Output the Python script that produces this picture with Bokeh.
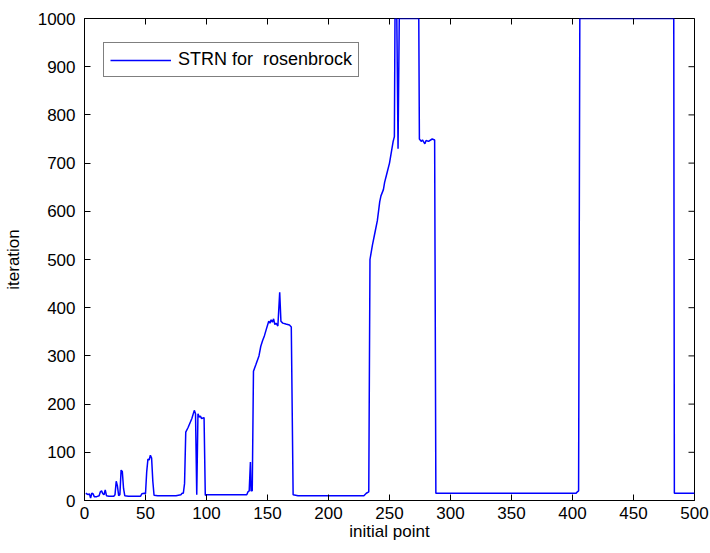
import math
from bokeh.plotting import figure
from bokeh.models import Range1d, FixedTicker, Legend, LegendItem
from bokeh.embed import file_html
from bokeh.resources import INLINE

x_ticks = [0, 50, 100, 150, 200, 250, 300, 350, 400, 450, 500]
y_ticks = [0, 100, 200, 300, 400, 500, 600, 700, 800, 900, 1000]

series_name = "STRN for  rosenbrock"

initial_point = [
    1, 3, 4, 5, 6, 7, 8, 10, 12, 13, 14, 15, 16, 17, 18, 20, 24, 25, 26, 27, 28, 29,
    30, 31, 32, 33, 36, 46, 47, 49, 50, 51, 52, 53, 54, 55, 56, 57,
    60, 75, 79, 80, 81, 82, 83, 85, 88, 90, 91, 92, 93, 94, 95, 96, 98, 99,
    100, 133, 134, 135, 136, 136.5, 137.5, 138.5, 140.5, 143, 144.5, 146, 147.5, 149,
    151, 152, 153, 154, 155, 156, 157, 158.5, 160, 161, 162.5, 165, 168, 169.5, 171,
    175, 229, 231, 233, 234, 236, 238, 240, 241, 242, 243, 245, 246, 248, 250, 252,
    253, 254, 254.5, 256, 257, 258, 274, 274.5, 276, 277, 279, 280, 282, 285, 287,
    288, 290, 403, 404, 405, 406, 483, 483.5, 500,
]
iteration = [
    15, 12, 14, 5, 15, 14, 8, 8, 10, 18, 20, 14, 12, 22, 10, 9, 9, 12, 40, 30, 10, 12,
    63, 60, 25, 10, 9, 9, 14, 15, 14, 60, 86, 84, 94, 88, 40, 11,
    10, 10, 12, 15, 15, 35, 142, 152, 170, 187, 180, 12, 180, 173, 175, 170, 172, 11,
    12, 12, 18, 20, 80, 20, 20, 268, 282, 300, 320, 332, 342, 355,
    372, 368, 375, 370, 377, 365, 368, 362, 432, 372, 368, 366, 364, 360, 12,
    10, 10, 15, 18, 500, 530, 555, 580, 600, 620, 632, 645, 660, 680, 700, 730,
    745, 755, 1000, 1000, 730, 1000, 1000, 750, 745, 748, 740, 747, 745, 750, 748,
    15, 15, 15, 18, 20, 1000, 1000, 15, 15,
]

FONT = "Liberation Sans"
FS = "17px"

x_lo, x_hi = x_ticks[0], x_ticks[-1]
y_lo, y_hi = y_ticks[0], y_ticks[-1]

p = figure(width=710, height=553, output_backend="svg", toolbar_location=None,
           x_range=Range1d(x_lo, x_hi), y_range=Range1d(y_lo, y_hi),
           min_border_left=84, min_border_right=16, min_border_top=18,
           min_border_bottom=53)
p.xgrid.visible = False
p.ygrid.visible = False
p.outline_line_color = "black"
p.outline_line_width = 1
p.background_fill_color = "white"
p.border_fill_color = "white"

r = p.line(initial_point, iteration, line_color="#0000ff", line_width=1.5)

# inward ticks on the top and right edges of the box (clipped to the frame)
p.scatter(x=x_ticks, y=[y_hi] * len(x_ticks), marker="dash", angle=math.pi / 2,
          size=12, line_color="black", line_width=1)
p.scatter(x=[x_hi] * len(y_ticks), y=y_ticks, marker="dash",
          size=12, line_color="black", line_width=1)

p.xaxis.ticker = FixedTicker(ticks=x_ticks)
p.yaxis.ticker = FixedTicker(ticks=y_ticks)
p.xaxis.axis_label = "initial point"
p.yaxis.axis_label = "iteration"

for ax in (p.xaxis[0], p.yaxis[0]):
    ax.axis_line_color = "black"
    ax.major_tick_line_color = "black"
    ax.major_tick_in = 6
    ax.major_tick_out = 0
    ax.minor_tick_line_color = None
    ax.major_label_text_font = FONT
    ax.major_label_text_font_size = FS
    ax.major_label_text_color = "black"
    ax.axis_label_text_font = FONT
    ax.axis_label_text_font_size = FS
    ax.axis_label_text_font_style = "normal"
    ax.axis_label_text_color = "black"

p.xaxis.major_label_standoff = 6
p.xaxis.axis_label_standoff = 0
p.yaxis.major_label_standoff = 9
p.yaxis.axis_label_standoff = 12

legend = Legend(items=[LegendItem(label=series_name, renderers=[r])],
                location=(19, 423))
legend.label_text_font = FONT
legend.label_text_font_size = "18px"
legend.label_text_color = "black"
legend.glyph_width = 61
legend.glyph_height = 20
legend.label_height = 20
legend.label_standoff = 7
legend.padding = 6
legend.margin = 0
legend.spacing = 0
legend.border_line_color = "black"
legend.border_line_width = 1
legend.background_fill_color = "white"
legend.background_fill_alpha = 1
p.add_layout(legend, "center")

open("out.html", "w").write(file_html(p, INLINE))
